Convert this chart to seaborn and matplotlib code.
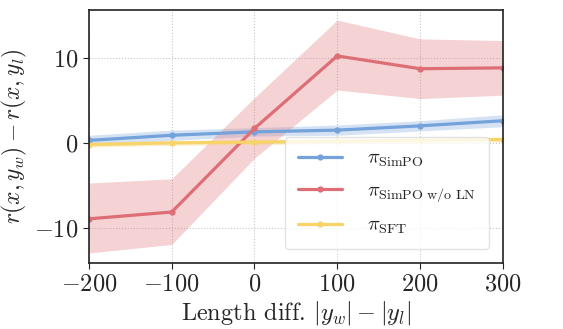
import numpy as np
import pandas as pd
import seaborn as sns
import matplotlib.pyplot as plt

# length differences
length_diff = [-200, -100, 0, 100, 200, 300]

simpo_mean = [0.3, 0.9, 1.3, 1.5, 2.0, 2.6]
simpo_low = [-0.3, 0.3, 0.8, 0.9, 1.4, 1.9]
simpo_high = [0.9, 1.5, 1.8, 2.1, 2.6, 3.3]

noln_mean = [-8.9, -8.1, 1.7, 10.2, 8.7, 8.8]
noln_low = [-12.9, -11.9, -1.8, 6.2, 5.2, 5.6]
noln_high = [-4.7, -4.2, 5.3, 14.4, 12.2, 12.0]

sft_mean = [-0.2, 0.0, 0.1, 0.2, 0.3, 0.4]
sft_low = [-0.5, -0.3, -0.2, -0.1, 0.0, 0.1]
sft_high = [0.1, 0.3, 0.4, 0.5, 0.6, 0.7]

labels = [r"$\pi_{\mathrm{SimPO}}$", r"$\pi_{\mathrm{SimPO\ w/o\ LN}}$", r"$\pi_{\mathrm{SFT}}$"]
colors = ["#74A2DA", "#DE6E75", "#F8D36A"]

sns.set_style("whitegrid", {"grid.linestyle": ":", "grid.color": "#c8c8c8",
                            "axes.edgecolor": "#222222", "xtick.bottom": True, "ytick.left": True})
plt.rcParams["font.family"] = ["cmr10"]
plt.rcParams["mathtext.fontset"] = "cm"
plt.rcParams["axes.formatter.use_mathtext"] = True

rows = []
for lab, m in zip(labels, [simpo_mean, noln_mean, sft_mean]):
    for x, v in zip(length_diff, m):
        rows.append({"diff": x, "reward": v, "model": lab})
df = pd.DataFrame(rows)

fig, ax = plt.subplots(figsize=(5.63, 3.29), dpi=100)

for lab, lo, hi, c in zip(labels, [simpo_low, noln_low, sft_low], [simpo_high, noln_high, sft_high], colors):
    ax.fill_between(length_diff, lo, hi, color=c, alpha=0.3, linewidth=0)

sns.lineplot(data=df, x="diff", y="reward", hue="model", palette=colors, marker="o",
             markersize=4.5, markeredgewidth=0, linewidth=2.3, ax=ax)

ax.set_xlim(-200, 300)
ax.set_ylim(-14.1, 15.6)
ax.set_xticks([-200, -100, 0, 100, 200, 300])
ax.set_yticks([-10, 0, 10])
ax.tick_params(labelsize=17.5, length=4, color="#222222")
ax.set_xlabel(r"Length diff. $|y_w| - |y_l|$", fontsize=17.5, labelpad=2)
ax.set_ylabel(r"$r(x, y_w) - r(x, y_l)$", fontsize=17, labelpad=4)
for s in ax.spines.values():
    s.set_linewidth(1.2)

leg = ax.legend(loc="lower right", fontsize=14.5, frameon=True, borderpad=0.65,
                labelspacing=0.62, handlelength=2.2, handletextpad=1.2,
                bbox_to_anchor=(0.99, 0.015))
leg.get_frame().set_edgecolor("#dddddd")
leg.set_title(None)

fig.subplots_adjust(left=0.158, right=0.893, top=0.97, bottom=0.2)
fig.savefig("out.png", dpi=100)
